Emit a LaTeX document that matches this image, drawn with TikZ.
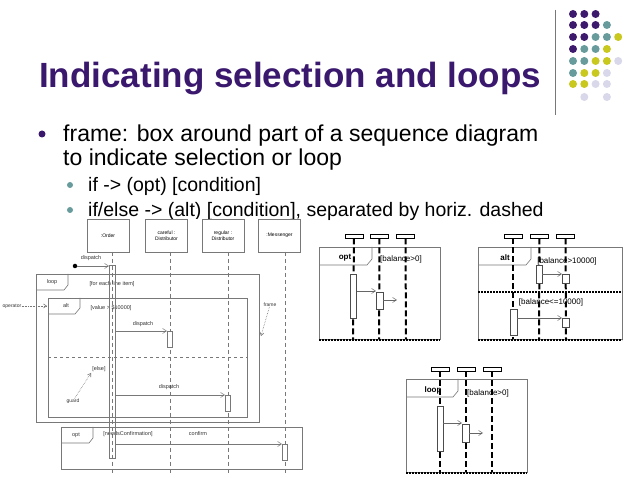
\documentclass[tikz,border=0pt]{standalone}
\usepackage{fontspec}
\setmainfont{Liberation Sans}
\usetikzlibrary{arrows.meta}
\definecolor{ttl}{RGB}{58,24,110}
\definecolor{dp}{RGB}{62,26,110}
\definecolor{dt}{RGB}{104,156,156}
\definecolor{dy}{RGB}{200,200,30}
\definecolor{dl}{RGB}{216,216,234}
\definecolor{lg}{RGB}{120,120,120}
\begin{document}
\begin{tikzpicture}[x=1pt,y=-1pt,
  body/.style={anchor=base west,inner sep=0,font=\fontsize{23}{25}\selectfont},
  sub/.style={anchor=base west,inner sep=0,font=\fontsize{19.5}{22}\selectfont},
  dot/.style={circle,fill=#1,minimum size=8pt,inner sep=0},
  life/.style={draw=lg,line width=0.6pt,minimum width=42pt,minimum height=33pt,font=\fontsize{5}{6}\selectfont,align=center,fill=white},
  sm/.style={font=\fontsize{5.5}{6}\selectfont,inner sep=0,text=black!80},
  gl/.style={draw=lg,line width=0.5pt},
  msg/.style={gl,-{Straight Barb[length=4pt,width=5pt]}},
  note/.style={draw=lg,densely dotted,line width=0.6pt,-{Straight Barb[length=3pt,width=4pt]}},
  act/.style={draw=lg,line width=0.6pt},
  sact/.style={draw=lg,fill=white,line width=0.6pt},
  ll/.style={draw=lg,dash pattern=on 4pt off 3pt,line width=0.5pt},
  bl/.style={draw=black,line width=2pt,dash pattern=on 6pt off 3pt},
  bot/.style={draw=black,line width=2pt,dash pattern=on 2pt off 1pt},
  rf/.style={draw=lg,line width=0.6pt},
  ract/.style={draw=black!70,fill=white,line width=0.6pt},
  rmsg/.style={draw=black!60,line width=0.5pt,-{Straight Barb[length=4pt,width=5pt]}},
  rl/.style={font=\fontsize{8}{9}\selectfont,inner sep=0},
  rb/.style={font=\bfseries\fontsize{8}{9}\selectfont,inner sep=0},
  hbox/.style={draw=black,line width=0.8pt,fill=white,minimum width=18pt,minimum height=4pt,inner sep=0}
  ]
\useasboundingbox (0,0) rectangle (638,478);
\fill[white] (0,0) rectangle (638,478);
% decoration
\draw[lg,line width=0.6pt] (555,10) -- (555,115);
\foreach \r/\cols in {14/{dp,dp,dp},25/{dp,dp,dp,dt},37/{dp,dp,dt,dt,dy},49/{dp,dt,dt,dy},61/{dt,dt,dy,dy,dl},73/{dt,dy,dy,dl},84/{dy,dy,dl,dl}}{
  \foreach \c [count=\i] in \cols { \node[dot=\c] (d\r-\i) at ({561.7+11.3*\i},\r) {}; }}
\node[dot=dl] (d96-2) at (584.3,97) {};
\node[dot=dl] (d96-4) at (606.9,97) {};
% title and bullets
\node[anchor=base west,inner sep=0,text=ttl,font=\bfseries\fontsize{35}{38}\selectfont] (title) at (39,88) {Indicating selection and loops};
\node[circle,fill=ttl,minimum size=7pt,inner sep=0] (b1) at (42,134) {};
\node[body] (t1) at (63,142) {frame: box around part of a sequence diagram};
\node[body] (t2) at (63,166) {to indicate selection or loop};
\node[circle,fill=dt,minimum size=6pt,inner sep=0] (b2) at (70,185) {};
\node[sub] (t3) at (88,192) {if -> (opt) [condition]};
\node[circle,fill=dt,minimum size=6pt,inner sep=0] (b3) at (70,210) {};
\node[sub] (t4) at (88,217) {if/else -> (alt) [condition], separated by horiz. dashed};
% ===== left diagram =====
\fill[white] (0,219) rectangle (311,478);
\node[life] (o) at (108,235.5) {:Order};
\node[life] (c) at (166.5,235.5) {careful :\\Distributor};
\node[life] (r) at (223,235.5) {regular :\\Distributor};
\node[life] (m) at (279.5,235.5) {:Messenger};
\coordinate (oe) at (112,473); \coordinate (ce) at (170,473);
\coordinate (re) at (228,473); \coordinate (me) at (285,473);
\draw[ll] (112,252) -- (oe); \draw[ll] (170,252) -- (ce);
\draw[ll] (228,252) -- (re); \draw[ll] (285,252) -- (me);
% frames
\draw[gl,line width=0.6pt] (36,274) rectangle (259,422);
\draw[gl,line width=0.6pt] (36,290) -- (64,290) -- (68,285) -- (68,274);
\node[sm] (lpl) at (52,282) {loop};
\node[sm] (lpg) at (112,284) {[for each line item]};
\draw[gl,line width=0.8pt] (48,298) rectangle (247,417);
\draw[gl,line width=0.6pt] (48,314) -- (75,314) -- (80,308) -- (80,298);
\node[sm] (alt) at (66,306) {alt};
\node[sm] (altg) at (111,308) {[value > \$10000]};
\draw[gl,dashed,line width=0.6pt] (48,357) -- (247,357);
\draw[gl,line width=0.6pt] (61,427) rectangle (302,469);
\draw[gl,line width=0.6pt] (61,443) -- (89,443) -- (93,438) -- (93,427);
\node[sm] (optl) at (76,435) {opt};
\node[sm] (optg) at (128,434) {[needsConfirmation]};
\node[sm] (conf) at (198,434) {confirm};
% activations
\draw[act] (109,265) rectangle (115,458);
\node[circle,fill=black,minimum size=4.5pt,inner sep=0] (start) at (75,266) {};
\coordinate (oa) at (109,266);
\draw[msg] (start) -- (oa);
\node[sm] (dsp0) at (91,258) {dispatch};
\draw[sact] (167,331) rectangle (172,347);
\coordinate (a1s) at (115,331); \coordinate (a1e) at (167,331);
\draw[msg] (a1s) -- (a1e);
\node[sm] (dsp1) at (143,324) {dispatch};
\draw[sact] (225,395) rectangle (230,411);
\coordinate (a2s) at (115,395); \coordinate (a2e) at (225,395);
\draw[msg] (a2s) -- (a2e);
\node[sm] (dsp2) at (169,387) {dispatch};
\draw[sact] (282,444) rectangle (287,460);
\coordinate (a3s) at (115,444); \coordinate (a3e) at (282,444);
\draw[msg] (a3s) -- (a3e);
% notes
\node[sm,font=\fontsize{5}{6}\selectfont] (opn) at (12,306) {operator};
\coordinate (opt0) at (47,306);
\draw[note] (opn) -- (opt0);
\node[sm] (els) at (99,369) {[else]};
\node[sm,font=\fontsize{5}{6}\selectfont] (grd) at (73,401) {guard};
\coordinate (grt) at (91,373);
\draw[note] (grd) -- (grt);
\node[sm,font=\fontsize{5}{6}\selectfont] (frm) at (270,305) {frame};
\coordinate (frt) at (261,336);
\draw[note] (frm) -- (frt);
% ===== opt panel =====
\fill[white] (319,247) rectangle (440,339);
\draw[rf] (319,247) rectangle (440,339);
\draw[rf] (319,265) -- (367,265) -- (372,259) -- (372,247);
\node[hbox] (h1) at (354,236) {}; \node[hbox] (h2) at (379.5,236) {}; \node[hbox] (h3) at (405.5,236) {};
\draw[bl] (h1.south) -- (353,339); \draw[bl] (h2.south) -- (379,339); \draw[bl] (h3.south) -- (406,339);
\draw[bot] (319,340) -- (440,340);
\node[rb] (optr) at (345,258) {opt};
\node[rl] (g1) at (401,259) {[balance>0]};
\draw[ract] (350.5,274) rectangle (356.5,318);
\draw[ract] (376,292) rectangle (383,309);
\coordinate (p1) at (356.5,291); \coordinate (p2) at (376,291);
\draw[rmsg] (p1) -- (p2);
\coordinate (p3) at (383,300); \coordinate (p4) at (397,300);
\draw[rmsg] (p3) -- (p4);
% ===== alt panel =====
\fill[white] (478,247) rectangle (622,339);
\draw[rf] (478,247) rectangle (622,339);
\draw[rf] (478,265) -- (526,265) -- (531,259) -- (531,247);
\node[hbox] (h4) at (513,236) {}; \node[hbox] (h5) at (539.5,236) {}; \node[hbox] (h6) at (565.5,236) {};
\draw[bl] (h4.south) -- (513,339); \draw[bl] (h5.south) -- (539,339); \draw[bl] (h6.south) -- (566,339);
\draw[bot] (478,292) -- (622,292);
\draw[bot] (478,340) -- (622,340);
\node[rb] (altr) at (505,258) {alt};
\node[rl] (g2) at (567,261) {[balance>10000]};
\node[rl] (g3) at (551,302) {[balance<=10000]};
\draw[ract] (536,265) rectangle (542,283);
\draw[ract] (562,274) rectangle (569,283);
\coordinate (q1) at (542,274); \coordinate (q2) at (562,274);
\draw[rmsg] (q1) -- (q2);
\draw[ract] (510,309) rectangle (517,335);
\draw[ract] (562,318) rectangle (569,327);
\coordinate (q3) at (517,318); \coordinate (q4) at (562,318);
\draw[rmsg] (q3) -- (q4);
% ===== loop panel =====
\fill[white] (406,379) rectangle (527,472);
\draw[rf] (406,379) rectangle (527,472);
\draw[rf] (406,397) -- (453,397) -- (458,391) -- (458,379);
\node[hbox] (h7) at (440,369) {}; \node[hbox] (h8) at (466,369) {}; \node[hbox] (h9) at (492,369) {};
\draw[bl] (h7.south) -- (440,472); \draw[bl] (h8.south) -- (466,472); \draw[bl] (h9.south) -- (492,472);
\draw[bot] (406,473) -- (527,473);
\node[rb] (loopr) at (433,390) {loop};
\node[rl] (g4) at (488,393) {[balance>0]};
\draw[ract] (437,406) rectangle (443,451);
\draw[ract] (462,424) rectangle (469,442);
\coordinate (s1) at (443,423); \coordinate (s2) at (462,423);
\draw[rmsg] (s1) -- (s2);
\coordinate (s3) at (469,433); \coordinate (s4) at (483,433);
\draw[rmsg] (s3) -- (s4);
\end{tikzpicture}
\end{document}
